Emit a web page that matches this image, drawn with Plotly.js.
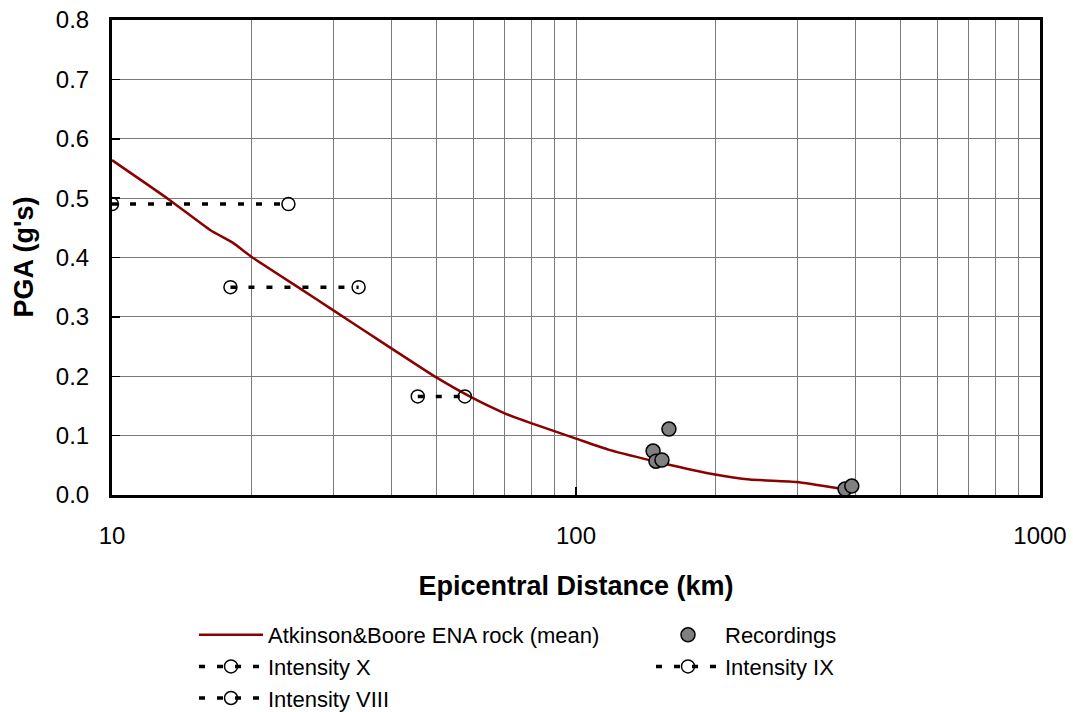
<!DOCTYPE html>
<html>
<head>
<meta charset="utf-8">
<script src="https://cdn.plot.ly/plotly-3.0.1.min.js"></script>
<style>html,body{margin:0;padding:0;background:#fff}#chart{width:1073px;height:712px}</style>
</head>
<body>
<div id="chart"></div>
<script>
// Atkinson & Boore ENA rock (mean) curve
const abDist = [10, 13.3, 16.3, 18.2, 20, 25.4, 30, 35.4, 40, 50, 60, 70, 80, 100, 118, 153, 198, 237, 299, 371];
const abPGA  = [0.564, 0.497, 0.446, 0.425, 0.401, 0.348, 0.311, 0.274, 0.247, 0.198, 0.163, 0.138, 0.121, 0.095, 0.076, 0.054, 0.035, 0.026, 0.022, 0.011];

// Recordings
const recDist = [146.6, 148.7, 153.2, 158.6, 380, 393];
const recPGA  = [0.074, 0.057, 0.059, 0.111, 0.010, 0.015];

// Intensity ranges
const intXDist = [10, 24];
const intXPGA  = [0.49, 0.49];
const intIXDist = [18, 34];
const intIXPGA  = [0.35, 0.35];
const intVIIIDist = [45.6, 57.6];
const intVIIIPGA  = [0.166, 0.166];

const xTickVals = [10, 100, 1000];
const xTickText = ['10', '100', '1000'];

const xTitle = 'Epicentral Distance (km)';
const yTitle = "PGA (g's)";

const FONT = 'Liberation Sans, Arial, sans-serif';
const gridCol = '#7a7a7a';

const intensityStyle = (name, x, y, lg) => ({
  x: x, y: y, name: name, type: 'scatter', mode: 'lines+markers',
  legend: lg,
  line: {color: '#000', width: 3.5, dash: '6px,12px'},
  marker: {symbol: 'circle-open', size: 13, color: '#000', line: {width: 1.5, color: '#000'}}
});

const traces = [
  {x: abDist, y: abPGA, name: 'Atkinson&Boore ENA rock (mean)', type: 'scatter', mode: 'lines',
   legend: 'legend',
   line: {color: '#8b0000', width: 2.5, shape: 'spline', smoothing: 0.5}},
  {x: recDist, y: recPGA, name: 'Recordings', type: 'scatter', mode: 'markers',
   legend: 'legend2',
   marker: {symbol: 'circle', size: 14, color: '#808080', line: {width: 1.5, color: '#000'}}},
  intensityStyle('Intensity X', intXDist, intXPGA, 'legend'),
  intensityStyle('Intensity IX', intIXDist, intIXPGA, 'legend2'),
  intensityStyle('Intensity VIII', intVIIIDist, intVIIIPGA, 'legend')
];

const legendBase = {
  orientation: 'v', xanchor: 'left', yanchor: 'top', xref: 'container', yref: 'container',
  y: 1 - 614 / 712, itemwidth: 64, tracegroupgap: 0,
  font: {size: 22, family: FONT}, bgcolor: 'rgba(0,0,0,0)', borderwidth: 0
};

const layout = {
  width: 1073, height: 712,
  margin: {l: 112, r: 33, t: 20, b: 217, autoexpand: false},
  paper_bgcolor: '#fff', plot_bgcolor: '#fff',
  font: {family: FONT, color: '#000', size: 22},
  showlegend: true,
  xaxis: {
    type: 'log', range: [1, 3], automargin: true,
    tickvals: xTickVals, ticktext: xTickText, tickangle: 0,
    ticks: 'inside', ticklen: 8, tickwidth: 1.5, tickcolor: '#000',
    showgrid: true, gridcolor: gridCol, gridwidth: 1,
    minor: {dtick: 'D1', showgrid: true, gridcolor: gridCol, gridwidth: 1, ticks: ''},
    showline: true, linecolor: '#000', linewidth: 3, mirror: true,
    zeroline: false,
    tickfont: {size: 24, family: FONT},
    ticklabelstandoff: 17,
    title: {text: '<b>' + xTitle + '</b>', font: {size: 27, family: FONT}, standoff: 29}
  },
  yaxis: {
    range: [0, 0.8], dtick: 0.1, tickformat: '.1f', automargin: false,
    ticks: 'inside', ticklen: 8, tickwidth: 1.5, tickcolor: '#000',
    showgrid: true, gridcolor: gridCol, gridwidth: 1,
    showline: true, linecolor: '#000', linewidth: 3, mirror: true,
    zeroline: false,
    tickfont: {size: 24, family: FONT},
    ticklabelstandoff: 15
  },
  annotations: [{
    text: '<b>' + yTitle + '</b>', xref: 'paper', yref: 'paper',
    x: (23 - 112) / 928, y: 0.5, xanchor: 'center', yanchor: 'middle',
    textangle: -90, showarrow: false, font: {size: 27, family: FONT, color: '#000'}
  }],
  legend: Object.assign({}, legendBase, {x: 194 / 1073}),
  legend2: Object.assign({}, legendBase, {x: 651 / 1073})
};

Plotly.newPlot('chart', traces, layout, {displayModeBar: false, staticPlot: true});
</script>
</body>
</html>
